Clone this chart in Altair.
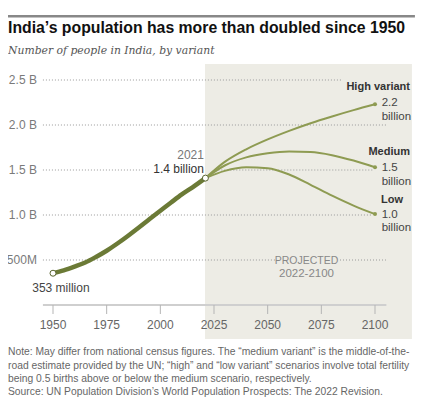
import altair as alt
import pandas as pd

# ---------------- data ----------------
hist_years = [1950, 1955, 1960, 1965, 1970, 1975, 1980, 1985, 1990, 1995, 2000, 2005, 2010, 2015, 2021]
hist_pop = [0.353, 0.385, 0.426, 0.472, 0.534, 0.603, 0.683, 0.770, 0.861, 0.955, 1.047, 1.139, 1.229, 1.308, 1.410]

proj_years = [2021, 2030, 2040, 2050, 2060, 2070, 2080, 2090, 2100]
high = [1.410, 1.590, 1.730, 1.840, 1.935, 2.020, 2.095, 2.165, 2.230]
medium = [1.410, 1.550, 1.640, 1.685, 1.705, 1.700, 1.665, 1.605, 1.530]
low = [1.410, 1.490, 1.530, 1.520, 1.450, 1.335, 1.215, 1.105, 1.010]

y_ticks = [0.5, 1.0, 1.5, 2.0, 2.5]
y_tick_labels = ["500M", "1.0 B", "1.5  B", "2.0 B", "2.5 B"]
x_ticks = [1950, 1975, 2000, 2025, 2050, 2075, 2100]

# gridline segments (value, start year, end year)
grid_val = [2.5, 2.0, 1.5, 1.5, 1.0, 0.5, 0.5]
grid_x0 = [1945.3, 1945.3, 1945.3, 2027.0, 1945.3, 1945.3, 2083.7]
grid_x1 = [2084.6, 2105.1, 1995.2, 2099.0, 2099.0, 2053.4, 2105.1]

title = "India’s population has more than doubled since 1950"
subtitle = "Number of people in India, by variant"
notes = [
    "Note: May differ from national census figures. The “medium variant” is the middle-of-the-",
    "road estimate provided by the UN; “high” and “low variant” scenarios involve total fertility",
    "being 0.5 births above or below the medium scenario, respectively.",
    "Source: UN Population Division’s World Population Prospects: The 2022 Revision.",
]

# ---------------- layout ----------------
W, H = 415, 389
FONT = "Liberation Sans"
X0, X1 = 1929.037, 2122.36
xs = alt.Scale(domain=[X0, X1], nice=False, zero=False)
ys = alt.Scale(domain=[(297 - H) / 90, 3.3], nice=False, zero=False)

DARK = "#6B7A36"
LIGHT = "#8E9B52"
BG = "#EDECE5"

hist_df = pd.DataFrame({"year": hist_years, "pop": hist_pop})
proj_df = pd.concat([
    pd.DataFrame({"year": proj_years, "pop": v, "variant": n})
    for n, v in [("High", high), ("Medium", medium), ("Low", low)]
])

X = lambda f: alt.X(f, type="quantitative", scale=xs, axis=None)
Y = lambda f: alt.Y(f, type="quantitative", scale=ys, axis=None)

shade = alt.Chart(pd.DataFrame({"x": [2020.8], "x2": [2117.2], "y": [-0.378], "y2": [2.678]})).mark_rect(
    color=BG).encode(x=X("x"), x2="x2", y=Y("y"), y2="y2")

# decorative bar across the top of the figure
top_bar = alt.Chart(pd.DataFrame({"x": [X0], "x2": [2118.6], "y": [3.194], "y2": [3.222]})).mark_rect(
    color="#888888").encode(x=X("x"), x2="x2", y=Y("y"), y2="y2")

grid = alt.Chart(pd.DataFrame({"v": grid_val, "x0": grid_x0, "x1": grid_x1})).mark_rule(
    color="#9a9a9a", strokeWidth=1, strokeDash=[1, 2]).encode(x=X("x0"), x2="x1", y=Y("v"))

axis_line = alt.Chart(pd.DataFrame({"x0": [1945.3], "x1": [2105.3], "v": [0]})).mark_rule(
    color="#cfcfcf", strokeWidth=2).encode(x=X("x0"), x2="x1", y=Y("v"))

ticks = alt.Chart(pd.DataFrame({"x": x_ticks, "y0": [0] * len(x_ticks), "y1": [-0.1] * len(x_ticks)})).mark_rule(
    color="#b5b5b5", strokeWidth=1).encode(x=X("x"), y=Y("y0"), y2="y1")

xlabels = alt.Chart(pd.DataFrame({"x": x_ticks, "y": [-0.222] * len(x_ticks), "t": [str(v) for v in x_ticks]})).mark_text(
    font=FONT, fontSize=12, color="#666666", align="center", baseline="middle").encode(x=X("x"), y=Y("y"), text="t:N")

ylabels = alt.Chart(pd.DataFrame({"x": [1942.5] * len(y_ticks), "y": y_ticks, "t": y_tick_labels})).mark_text(
    font=FONT, fontSize=12, color="#7a7a7a", align="right", baseline="middle").encode(x=X("x"), y=Y("y"), text="t:N")

proj_lines = alt.Chart(proj_df).mark_line(color=LIGHT, strokeWidth=2, interpolate="monotone").encode(
    x=X("year"), y=Y("pop"), detail="variant:N")

hist_line = alt.Chart(hist_df).mark_line(color=DARK, strokeWidth=4.5, interpolate="monotone").encode(
    x=X("year"), y=Y("pop"))

end_pts = alt.Chart(proj_df[proj_df.year == 2100]).mark_circle(color=LIGHT, size=16, opacity=1).encode(
    x=X("year"), y=Y("pop"))

hist_pts = alt.Chart(hist_df.iloc[[0, -1]]).mark_point(
    shape="circle", filled=True, fill="white", stroke="#5a6530", strokeWidth=1, size=36, opacity=1).encode(
    x=X("year"), y=Y("pop"))


def txt(x, y, t, **kw):
    base = dict(font=FONT, fontSize=12, baseline="middle", align="left")
    base.update(kw)
    return alt.Chart(pd.DataFrame({"x": [x], "y": [y], "t": [t]})).mark_text(**base).encode(
        x=X("x"), y=Y("y"), text="t:N")


annots = [
    txt(2020.3, 1.667, "2021", align="right", color="#777777"),
    txt(2020.3, 1.511, "1.4 billion", align="right", color="#333333"),
    txt(1953.7, 0.189, "353 million", align="center", color="#444444"),
    txt(2068.1, 0.489, "PROJECTED", align="center", color="#888888", fontSize=10.5),
    txt(2068.1, 0.344, "2022-2100", align="center", color="#888888", fontSize=11.5),
    txt(2116.3, 2.426, "High variant", align="right", color="#333333", fontSize=11, fontWeight="bold"),
    txt(2116.3, 1.703, "Medium", align="right", color="#333333", fontSize=11, fontWeight="bold"),
    txt(2102.8, 1.167, "Low", color="#333333", fontSize=11, fontWeight="bold"),
    txt(2103.1, 2.244, "2.2", color="#444444", fontSize=11.5),
    txt(2103.1, 2.092, "billion", color="#444444", fontSize=11.5),
    txt(2103.1, 1.522, "1.5", color="#444444", fontSize=11.5),
    txt(2103.1, 1.370, "billion", color="#444444", fontSize=11.5),
    txt(2103.1, 1.000, "1.0", color="#444444", fontSize=11.5),
    txt(2103.1, 0.856, "billion", color="#444444", fontSize=11.5),
]

title_t = alt.Chart(pd.DataFrame({"t": [title]})).mark_text(
    font=FONT, fontSize=15.8, fontWeight="bold", color="#111111", align="left", baseline="alphabetic").encode(
    x=alt.value(0), y=alt.value(24.5), text="t:N")

sub_t = alt.Chart(pd.DataFrame({"t": [subtitle]})).mark_text(
    font="DejaVu Serif", fontSize=10.8, fontStyle="italic", color="#555555", align="left", baseline="alphabetic").encode(
    x=alt.value(0), y=alt.value(45.5), text="t:N")

note_t = alt.Chart(pd.DataFrame({"t": notes, "y": [347, 360.5, 373.5, 386.5]})).mark_text(
    font=FONT, fontSize=10.3, color="#666666", align="left", baseline="alphabetic").encode(
    x=alt.value(0), y=alt.Y("y:Q", scale=None), text="t:N")

chart = alt.layer(
    shade, top_bar, grid, axis_line, ticks, xlabels, ylabels, proj_lines, hist_line, end_pts, hist_pts,
    *annots, title_t, sub_t, note_t
).properties(
    width=W, height=H, autosize=alt.AutoSizeParams(type="none"), padding=0, background="white"
).configure_view(stroke=None)

chart.save("out.html", embed_options={"renderer": "svg", "actions": False})
